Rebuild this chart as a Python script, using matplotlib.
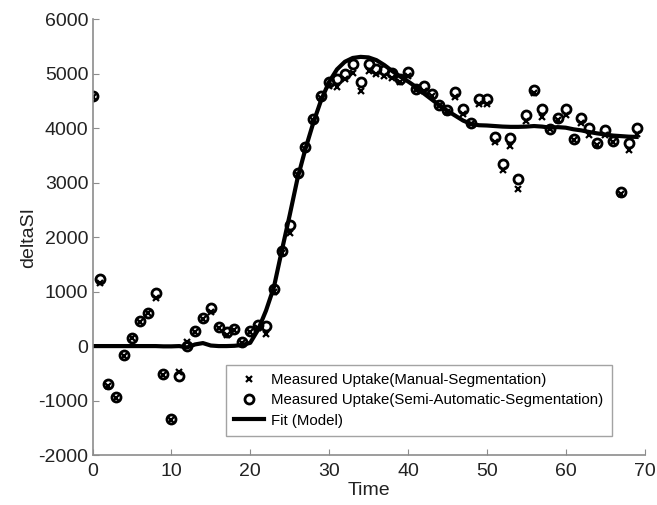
import matplotlib
matplotlib.use("Agg")
import matplotlib.pyplot as plt

plt.rcParams['font.family'] = ['Liberation Sans', 'DejaVu Sans']
plt.rcParams['axes.unicode_minus'] = False

# time points (one sample per unit)
time = list(range(70))

# measured uptake, manual segmentation (x markers)
manual = [4580, 1150, -730, -960, -180, 140, 440, 600, 880, -530,
          -1350, -470, 80, 260, 500, 620, 340, 200, 290, 60,
          250, 330, 230, 1000, 1700, 2070, 3150, 3620, 4150, 4550,
          4780, 4750, 4900, 5020, 4680, 5050, 4990, 4960, 4930, 4840,
          4960, 4700, 4680, 4600, 4410, 4300, 4580, 4270, 4080, 4450,
          4440, 3740, 3240, 3680, 2890, 4130, 4640, 4210, 3980, 4150,
          4250, 3780, 4100, 3870, 3700, 3870, 3740, 2800, 3600, 3900]

# measured uptake, semi-automatic segmentation (o markers)
semi = [4600, 1230, -700, -930, -170, 150, 460, 610, 970, -520,
        -1340, -550, 0, 275, 520, 690, 355, 265, 305, 80,
        275, 390, 360, 1040, 1750, 2215, 3180, 3650, 4170, 4600,
        4840, 4895, 5000, 5170, 4845, 5170, 5080, 5065, 5015, 4905,
        5040, 4720, 4770, 4630, 4435, 4330, 4660, 4350, 4105, 4540,
        4540, 3830, 3335, 3825, 3070, 4235, 4710, 4345, 3990, 4190,
        4355, 3805, 4190, 4010, 3730, 3965, 3760, 2825, 3730, 4010]

# fitted model curve
fit = [0, 0, 0, 0, 0, 0, 0, 0, 0, -5,
       -5, 0, -25, 30, 55, 10, 0, 0, 5, 20,
       60, 300, 650, 1080, 1750, 2400, 3080, 3620, 4100, 4520,
       4850, 5080, 5220, 5290, 5310, 5300, 5250, 5160, 5050, 4950,
       4860, 4760, 4640, 4530, 4420, 4320, 4230, 4140, 4080, 4055,
       4050, 4040, 4030, 4025, 4025, 4030, 4040, 4030, 4010, 4020,
       4010, 3980, 3960, 3930, 3905, 3885, 3865, 3855, 3845, 3840]

fig = plt.figure(figsize=(6.57, 5.05), dpi=100)
ax = fig.add_axes([0.1408, 0.099, 0.8402, 0.8628])

ax.plot(time, manual, linestyle='none', marker='x', color='black',
        markersize=4.5, markeredgewidth=1.6,
        label='Measured Uptake(Manual-Segmentation)')
ax.plot(time, semi, linestyle='none', marker='o', color='black',
        markerfacecolor='none', markersize=6.5, markeredgewidth=2,
        label='Measured Uptake(Semi-Automatic-Segmentation)')
ax.plot(time, fit, color='black', linewidth=3, label='Fit (Model)')

ax.set_xlim(0, 70)
ax.set_ylim(-2000, 6000)
ax.set_xticks(range(0, 71, 10))
ax.set_yticks(range(-2000, 6001, 1000))

for side in ['top', 'right']:
    ax.spines[side].set_visible(False)
for side in ['left', 'bottom']:
    ax.spines[side].set_color('#8c8c8c')
    ax.spines[side].set_linewidth(1.2)
ax.tick_params(direction='in', length=4, color='#8c8c8c', labelsize=14,
               labelcolor='#222222')
ax.tick_params(axis='x', pad=6)
ax.tick_params(axis='y', pad=3)

ax.set_xlabel('Time', fontsize=14, color='#222222', labelpad=1)
ax.set_ylabel('deltaSI', fontsize=14, color='#222222', labelpad=1)

leg = ax.legend(loc='lower right', bbox_to_anchor=(0.941, 0.044),
                borderaxespad=0, fontsize=10.8, frameon=True, fancybox=False,
                borderpad=0.55, labelspacing=0.42, handlelength=2.0,
                handletextpad=0.5)
leg.get_frame().set_edgecolor('#8c8c8c')
leg.get_frame().set_linewidth(1.0)

fig.savefig('out.png', dpi=100)
